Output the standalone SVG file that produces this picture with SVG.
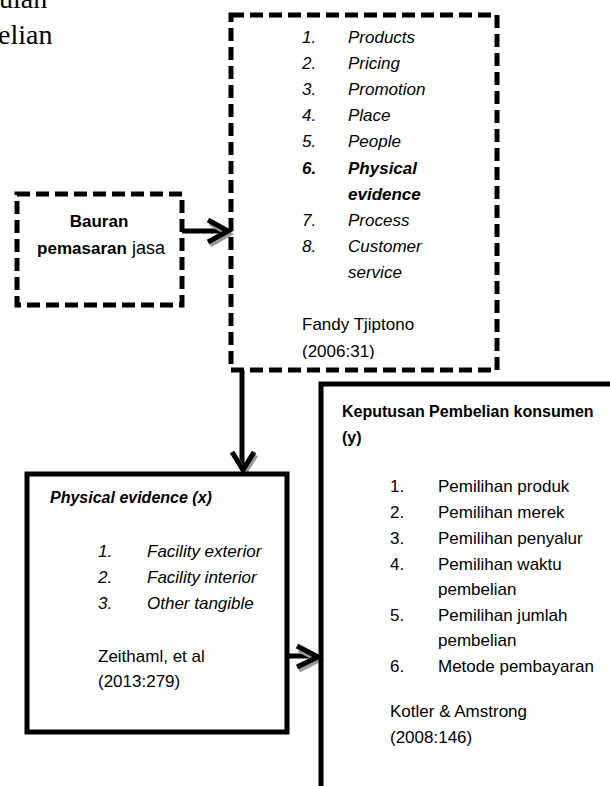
<svg xmlns="http://www.w3.org/2000/svg" width="610" height="786" viewBox="0 0 610 786">
<style>
.t{font-family:"Liberation Sans",Arial,sans-serif;font-size:17px;fill:#000}
.i{font-style:italic}
.b{font-weight:bold;font-size:16px}
.ser{font-family:"Liberation Serif","Times New Roman",serif;font-size:28px;fill:#000}
.dash{fill:none;stroke:#000;stroke-width:5;stroke-dasharray:13 6}
.solid{fill:none;stroke:#000;stroke-width:5}
.ln{fill:none;stroke:#000;stroke-width:5}
.sh{fill:none;stroke:#999;stroke-width:5;stroke-linejoin:miter}
.hd{fill:none;stroke:#000;stroke-width:5;stroke-linejoin:miter}
</style>
<defs>
<clipPath id="cp1"><rect x="234" y="18" width="260" height="341"/></clipPath>
</defs>
<rect width="610" height="786" fill="#fff"/>
<g id="title">
<text class="ser" x="-1" y="8">ulan</text>
<text class="ser" x="-2" y="44">elian</text>
</g>
<g id="connectors">
<line class="ln" x1="182" y1="231" x2="226" y2="231"/>
<polyline class="sh" points="210,223 229,234 210,245"/>
<polyline class="hd" points="208,220 228,231 208,242"/>
<line class="ln" x1="242" y1="370" x2="242" y2="468"/>
<polyline class="sh" points="234,455 245,472 256,455"/>
<polyline class="hd" points="232,452 243,470 254,452"/>
<line class="ln" x1="287" y1="656" x2="316" y2="656"/>
<polyline class="sh" points="299,650 319,660 299,670"/>
<polyline class="hd" points="297,646 318,657 297,667"/>
</g>
<g id="bauran">
<rect class="dash" x="17" y="194" width="165" height="111"/>
<text class="t b" x="99" y="227" text-anchor="middle" style="font-size:17px">Bauran</text>
<text class="t" x="101" y="254" text-anchor="middle" style="font-size:18px"><tspan class="b" style="font-size:17px">pemasaran</tspan> jasa</text>
</g>
<g id="mix">
<rect class="dash" x="231" y="15" width="266" height="355"/>
<g clip-path="url(#cp1)">
<text class="t i" x="302" y="43">1.</text><text class="t i" x="348" y="43">Products</text>
<text class="t i" x="302" y="69">2.</text><text class="t i" x="348" y="69">Pricing</text>
<text class="t i" x="302" y="95">3.</text><text class="t i" x="348" y="95">Promotion</text>
<text class="t i" x="302" y="121">4.</text><text class="t i" x="348" y="121">Place</text>
<text class="t i" x="302" y="147">5.</text><text class="t i" x="348" y="147">People</text>
<text class="t i b" x="302" y="174" style="font-size:17px">6.</text><text class="t i b" x="348" y="174" style="font-size:17px">Physical</text>
<text class="t i b" x="348" y="200" style="font-size:17px">evidence</text>
<text class="t i" x="302" y="226">7.</text><text class="t i" x="348" y="226">Process</text>
<text class="t i" x="302" y="252">8.</text><text class="t i" x="348" y="252">Customer</text>
<text class="t i" x="348" y="278">service</text>
<text class="t" x="302" y="330">Fandy Tjiptono</text>
<text class="t" x="302" y="357">(2006:31)</text>
</g>
</g>
<g id="physical">
<rect class="solid" x="27" y="474" width="260" height="258"/>
<text class="t i b" x="50" y="503">Physical evidence (x)</text>
<text class="t i" x="98" y="557">1.</text><text class="t i" x="147" y="557">Facility exterior</text>
<text class="t i" x="98" y="583">2.</text><text class="t i" x="147" y="583">Facility interior</text>
<text class="t i" x="98" y="609">3.</text><text class="t i" x="147" y="609">Other tangible</text>
<text class="t" x="98" y="662">Zeithaml, et al</text>
<text class="t" x="98" y="687">(2013:279)</text>
</g>
<g id="keputusan">
<polyline class="solid" points="321,790 321,384 615,384"/>
<text class="t b" x="342" y="417">Keputusan Pembelian konsumen</text>
<text class="t b" x="342" y="443">(y)</text>
<text class="t" x="390" y="492">1.</text><text class="t" x="438" y="492">Pemilihan produk</text>
<text class="t" x="390" y="518">2.</text><text class="t" x="438" y="518">Pemilihan merek</text>
<text class="t" x="390" y="544">3.</text><text class="t" x="438" y="544">Pemilihan penyalur</text>
<text class="t" x="390" y="570">4.</text><text class="t" x="438" y="570">Pemilihan waktu</text>
<text class="t" x="438" y="595">pembelian</text>
<text class="t" x="390" y="621">5.</text><text class="t" x="438" y="621">Pemilihan jumlah</text>
<text class="t" x="438" y="646">pembelian</text>
<text class="t" x="390" y="672">6.</text><text class="t" x="438" y="672">Metode pembayaran</text>
<text class="t" x="390" y="717">Kotler &amp; Amstrong</text>
<text class="t" x="390" y="743">(2008:146)</text>
</g>
</svg>
